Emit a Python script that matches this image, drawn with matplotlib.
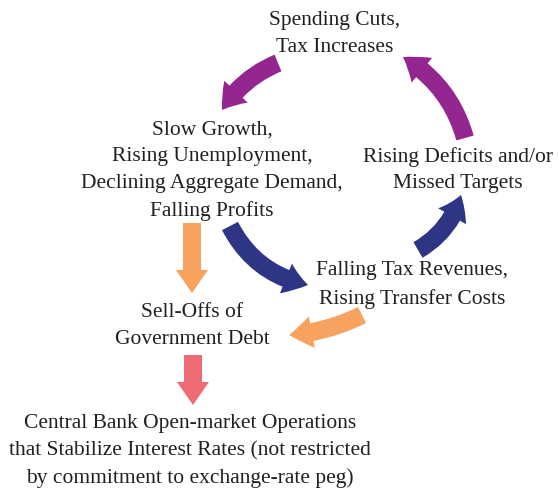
import matplotlib

matplotlib.use("Agg")
import matplotlib.pyplot as plt
from matplotlib.patches import FancyArrowPatch, ArrowStyle

# ---------------------------------------------------------------- content
NODE_LABELS = [
    "Spending Cuts,\nTax Increases",
    "Slow Growth,\nRising Unemployment,\nDeclining Aggregate Demand,\nFalling Profits",
    "Rising Deficits and/or\nMissed Targets",
    "Falling Tax Revenues,\nRising Transfer Costs",
    "Sell-Offs of\nGovernment Debt",
    "Central Bank Open-market Operations\nthat Stabilize Interest Rates (not restricted\n"
    "by commitment to exchange-rate peg)",
]
# label centres in pixel space (y down)
NODE_XY = [(335, 34), (212, 171), (458, 170), (412, 285), (192, 326), (190, 451)]

PURPLE = "#93278f"
NAVY = "#2e3585"
ORANGE = "#f7a25e"
RED = "#ef6b73"
INK = "#231f20"

# arrows: tail, tip, curvature, colour
ARROWS = [
    ((278, 64), (222, 111), 0.16, PURPLE),
    ((465, 139), (403, 58), 0.20, PURPLE),
    ((230, 227), (308, 286), 0.24, NAVY),
    ((418, 251), (461, 196), 0.20, NAVY),
    ((192, 224), (192, 294), 0.0, ORANGE),
    ((362, 316), (289, 336), -0.10, ORANGE),
    ((193, 356), (193, 406), 0.0, RED),
]

W, H = 559, 489
fig = plt.figure(figsize=(W / 100, H / 100), dpi=100, facecolor="white")
ax = fig.add_axes([0, 0, 1, 1])
ax.set_xlim(0, W)
ax.set_ylim(H, 0)
ax.axis("off")

PX = 72 / 100  # pixel -> point
style = ArrowStyle.Simple(head_length=23 * PX, head_width=32 * PX, tail_width=18 * PX)
for tail, tip, rad, color in ARROWS:
    ax.add_patch(FancyArrowPatch(tail, tip, arrowstyle=style, mutation_scale=1,
                                 connectionstyle=f"arc3,rad={rad}",
                                 shrinkA=0, shrinkB=0, facecolor=color,
                                 edgecolor="none", zorder=2))

for txt, (x, y) in zip(NODE_LABELS, NODE_XY):
    ax.text(x, y, txt, ha="center", va="center", fontsize=15.5,
            family="Liberation Serif", color=INK, linespacing=1.56, zorder=3)

fig.savefig("out.png", dpi=100, facecolor="white")
